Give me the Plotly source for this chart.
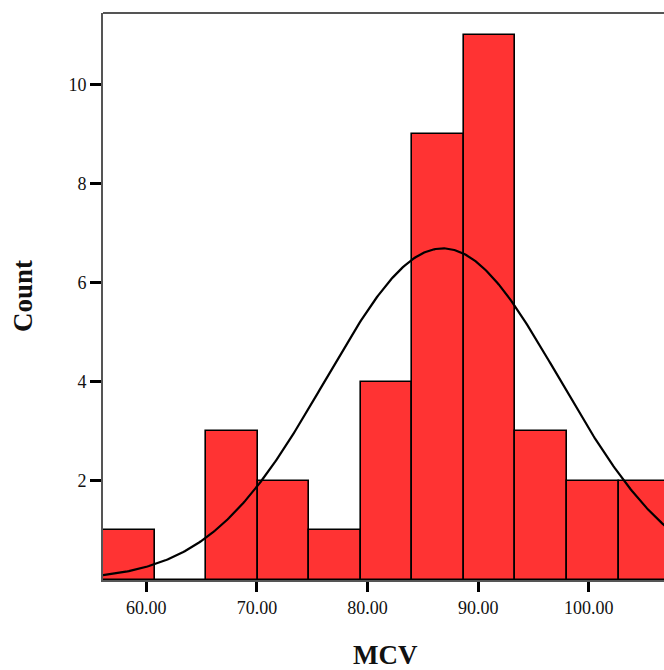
import numpy as np
import plotly.graph_objects as go

# Histogram data (MCV)
bin_start = 56.09
bin_width = 4.66
counts = [1, 0, 3, 2, 1, 4, 9, 11, 3, 2, 2]
x_tick_vals = [60, 70, 80, 90, 100]
x_tick_text = ["60.00", "70.00", "80.00", "90.00", "100.00"]
y_tick_vals = [2, 4, 6, 8, 10]
y_tick_text = ["2", "4", "6", "8", "10"]

# Fitted normal curve parameters
curve_mean = 86.8
curve_sd = 10.55
n_total = sum(counts)

x_range = [56.09, 106.8]
y_range = [0, 11.45]

centers = [bin_start + bin_width * (i + 0.5) for i in range(len(counts))]

xs = np.linspace(x_range[0], x_range[1] + 1, 400)
ys = n_total * bin_width / (curve_sd * np.sqrt(2 * np.pi)) * np.exp(-0.5 * ((xs - curve_mean) / curve_sd) ** 2)

fig = go.Figure()
fig.add_trace(go.Bar(
    x=centers, y=counts, width=bin_width,
    marker=dict(color="#ff3333", line=dict(color="black", width=1.6)),
    showlegend=False, hoverinfo="skip",
))
fig.add_trace(go.Scatter(
    x=xs, y=ys, mode="lines", line=dict(color="black", width=2.2),
    showlegend=False, hoverinfo="skip",
))

font_family = "Liberation Serif, Times New Roman, serif"
fig.update_layout(
    width=664, height=670,
    margin=dict(l=103, r=0, t=13, b=90),
    paper_bgcolor="white", plot_bgcolor="white",
    font=dict(family=font_family, size=18, color="#111"),
    bargap=0,
    xaxis=dict(
        range=x_range, showgrid=False, zeroline=False,
        showline=True, linecolor="#555", linewidth=2,
        tickmode="array", tickvals=x_tick_vals, ticktext=x_tick_text,
        ticks="outside", ticklen=10, tickwidth=3, tickcolor="black",
        tickfont=dict(size=18, family=font_family, color="#111"),
    ),
    yaxis=dict(
        range=y_range, showgrid=False, zeroline=False,
        showline=True, linecolor="#555", linewidth=2,
        tickmode="array", tickvals=y_tick_vals, ticktext=y_tick_text,
        ticks="outside", ticklen=11, tickwidth=3, tickcolor="black",
        tickfont=dict(size=18, family=font_family, color="#111"),
    ),
    shapes=[dict(type="line", xref="paper", yref="paper", x0=0, x1=1, y0=1, y1=1,
                 line=dict(color="#555", width=2))],
    annotations=[
        dict(text="<b>MCV</b>", xref="paper", yref="paper", x=0.504, y=-0.132,
             xanchor="center", yanchor="middle", showarrow=False,
             font=dict(size=27, family=font_family, color="#111")),
        dict(text="<b>Count</b>", xref="paper", yref="paper", x=-0.1426, y=0.501,
             xanchor="center", yanchor="middle", showarrow=False, textangle=-90,
             font=dict(size=27, family=font_family, color="#111")),
    ],
)

fig.write_html("out.html")
